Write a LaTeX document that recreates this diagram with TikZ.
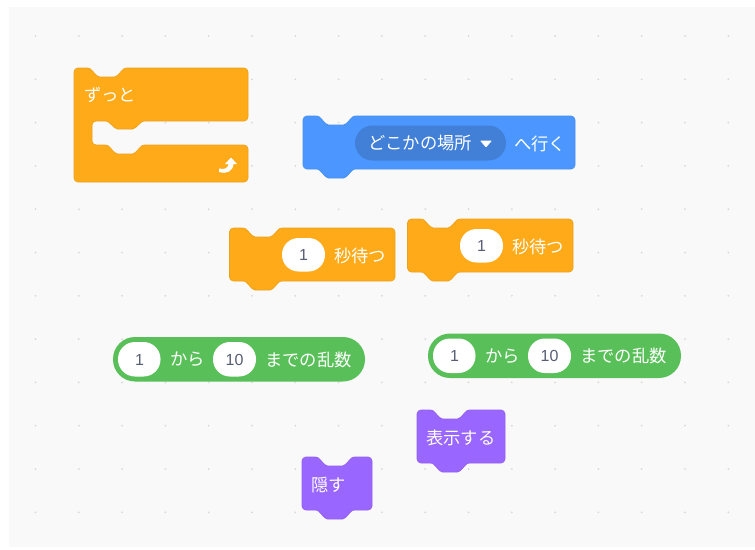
\documentclass[tikz,border=0pt]{standalone}
\usepackage{fontspec}
\setmainfont{Noto Sans CJK JP}
\setsansfont{Liberation Sans}
\definecolor{bg}{HTML}{F9F9F9}
\definecolor{griddot}{HTML}{D8D8D8}
\definecolor{ctrl}{HTML}{FFAB19}
\definecolor{ctrlb}{HTML}{EDA21C}
\definecolor{mot}{HTML}{4C97FF}
\definecolor{motb}{HTML}{4590EE}
\definecolor{motd}{HTML}{4280D7}
\definecolor{ope}{HTML}{59C059}
\definecolor{looks}{HTML}{9966FF}
\definecolor{looksb}{HTML}{9460EE}
\definecolor{numtxt}{HTML}{575E75}
% stack block: left, top, right, bottom (px)
\newcommand{\stackpath}[4]{%
  (#1,#2+4) arc[start angle=180,end angle=270,radius=4] -- (#1+13,#2)
  .. controls (#1+15,#2) and (#1+16,#2+.5) .. (#1+17,#2+1.5)
  -- (#1+22.5,#2+7.5) .. controls (#1+23.5,#2+8.5) and (#1+24,#2+9) .. (#1+25.5,#2+9)
  -- (#1+40.5,#2+9) .. controls (#1+42,#2+9) and (#1+42.5,#2+8.5) .. (#1+43.5,#2+7.5)
  -- (#1+49,#2+1.5) .. controls (#1+50,#2+.5) and (#1+51,#2) .. (#1+53,#2)
  -- (#3-4,#2) arc[start angle=-90,end angle=0,radius=4]
  -- (#3,#4-4) arc[start angle=0,end angle=90,radius=4]
  -- (#1+53,#4)
  .. controls (#1+51,#4) and (#1+50,#4+.5) .. (#1+49,#4+1.5)
  -- (#1+43.5,#4+7.5) .. controls (#1+42.5,#4+8.5) and (#1+42,#4+9) .. (#1+40.5,#4+9)
  -- (#1+25.5,#4+9) .. controls (#1+24,#4+9) and (#1+23.5,#4+8.5) .. (#1+22.5,#4+7.5)
  -- (#1+17,#4+1.5) .. controls (#1+16,#4+.5) and (#1+15,#4) .. (#1+13,#4)
  -- (#1+4,#4) arc[start angle=90,end angle=180,radius=4] -- cycle}
\tikzset{
  x=1pt,y=-1pt,
  ctrlblock/.style={fill=ctrl,draw=ctrlb,line width=.7pt,line join=round},
  motblock/.style={fill=mot,draw=motb,line width=.7pt,line join=round},
  lookblock/.style={fill=looks,draw=looksb,line width=.7pt,line join=round},
  blocktext/.style={text=white,inner sep=0pt,font=\fontsize{17.3}{19}\selectfont},
  num/.style={text=numtxt,inner sep=0pt,font=\sffamily\fontsize{16}{18}\selectfont},
  griddotp/.style={fill=griddot,draw=none},
}
\begin{document}
\begin{tikzpicture}
\useasboundingbox (0,0) rectangle (755,549);
\fill[white] (0,0) rectangle (755,549);
\fill[bg] (9,7) rectangle (755,547);
% grid dots
\foreach \i in {0,...,16}{\foreach \j in {0,...,11}{
  \fill[griddotp] ({35.5+43.3*\i},{36+43.3*\j}) circle[radius=1];
}}
% forever
\draw[ctrlblock]
  (74,72) arc[start angle=180,end angle=270,radius=4] -- (87,68)
  .. controls (89,68) and (90,68.5) .. (91,69.5)
  -- (96.5,75.5) .. controls (97.5,76.5) and (98,77) .. (99.5,77)
  -- (114.5,77) .. controls (116,77) and (116.5,76.5) .. (117.5,75.5)
  -- (123,69.5) .. controls (124,68.5) and (125,68) .. (127,68)
  -- (244,68) arc[start angle=-90,end angle=0,radius=4]
  -- (248,117) arc[start angle=0,end angle=90,radius=4]
  -- (145,121)
  .. controls (143,121) and (142,121.5) .. (141,122.5)
  -- (135.5,127.5) .. controls (134.5,128.5) and (134,129) .. (132.5,129)
  -- (117.5,129) .. controls (116,129) and (115.5,128.5) .. (114.5,127.5)
  -- (109,122.5) .. controls (108,121.5) and (107,121) .. (105,121)
  -- (96,121) arc[start angle=270,end angle=180,radius=4]
  -- (92,141) arc[start angle=180,end angle=90,radius=4]
  -- (105,145)
  .. controls (107,145) and (108,145.5) .. (109,146.5)
  -- (114.5,152.5) .. controls (115.5,153.5) and (116,154) .. (117.5,154)
  -- (132.5,154) .. controls (134,154) and (134.5,153.5) .. (135.5,152.5)
  -- (141,146.5) .. controls (142,145.5) and (143,145) .. (145,145)
  -- (244,145) arc[start angle=-90,end angle=0,radius=4]
  -- (248,178) arc[start angle=0,end angle=90,radius=4]
  -- (78,182) arc[start angle=90,end angle=180,radius=4] -- cycle;
\node[blocktext,anchor=west] (forevertext) at (84,95) {ずっと};
\fill[white] (219,168.5) .. controls (225,170) and (228,168) .. (228.5,164)
  -- (225,164) -- (231,157.5) -- (237,164) -- (233.5,164)
  .. controls (233,171) and (227,174.5) .. (219,172) -- cycle;
% goto
\draw[motblock] \stackpath{303}{116}{575}{169};
\fill[motd,rounded corners=17.4pt] (355,125.5) rectangle (506,160.5);
\node[blocktext,anchor=west] (gotomenu) at (368.5,143.5) {どこかの場所};
\fill[white,rounded corners=.8pt] (480,140.5) -- (492,140.5) -- (486,147.5) -- cycle;
\node[blocktext,anchor=west] (gototext) at (514,143.5) {へ行く};
% wait 1
\draw[ctrlblock] \stackpath{229.5}{228}{395}{281};
\fill[white,rounded corners=16.5pt] (282,238) rectangle (325,271.5);
\node[num] (waitnuma) at (303.5,255) {1};
\node[blocktext,anchor=west] (waittexta) at (334,255.5) {秒待つ};
% wait 2
\draw[ctrlblock] \stackpath{407.5}{219}{573}{272};
\fill[white,rounded corners=16.5pt] (460,229) rectangle (503,262.5);
\node[num] (waitnumb) at (481.5,246) {1};
\node[blocktext,anchor=west] (waittextb) at (512,246.5) {秒待つ};
% random 1
\fill[ope,rounded corners=22pt] (113,337) rectangle (365,381.5);
\fill[white,rounded corners=17pt] (118,342) rectangle (160.5,376.5);
\fill[white,rounded corners=17pt] (213,342) rectangle (256,376.5);
\node[num] (ranaa) at (139.5,359.5) {1};
\node[blocktext,anchor=west] (ranat) at (170,359.5) {から};
\node[num] (ranab) at (234.5,359.5) {10};
\node[blocktext,anchor=west] (ranau) at (265,359.5) {までの乱数};
% random 2
\fill[ope,rounded corners=22pt] (428,333.5) rectangle (681,378);
\fill[white,rounded corners=17pt] (433,338.5) rectangle (475.5,373);
\fill[white,rounded corners=17pt] (528,338.5) rectangle (571,373);
\node[num] (ranba) at (454.5,356) {1};
\node[blocktext,anchor=west] (ranbt) at (485,356) {から};
\node[num] (ranbb) at (549.5,356) {10};
\node[blocktext,anchor=west] (ranbu) at (580,356) {までの乱数};
% show
\draw[lookblock] \stackpath{417}{410}{505}{463};
\node[blocktext,anchor=west] (showtext) at (426,437.5) {表示する};
% hide
\draw[lookblock] \stackpath{302}{457}{372}{510};
\node[blocktext,anchor=west] (hidetext) at (311,484.5) {隠す};
\end{tikzpicture}
\end{document}
